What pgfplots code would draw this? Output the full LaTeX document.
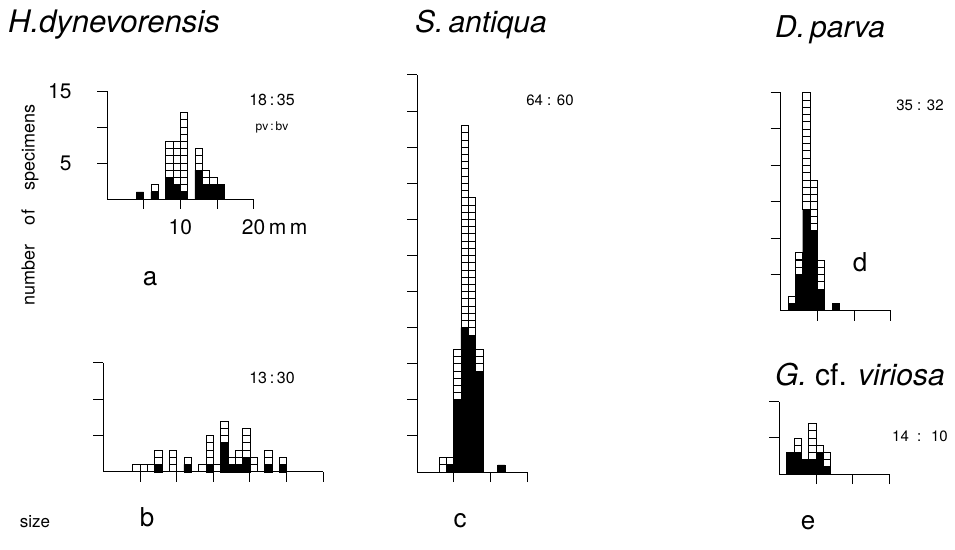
\documentclass[border=0pt]{standalone}
\usepackage{fontspec}
\setmainfont{TeX Gyre Heros}
\usepackage{pgfplots}
\pgfplotsset{compat=1.18}
\pgfplotsset{
  hist/.style={axis lines=left, axis line style={-, line width=0.9pt},
    anchor=origin, enlargelimits=false, clip=false,
    tick align=outside, major tick length=10pt,
    tick style={black, line width=0.9pt},
    xticklabels={}, yticklabels={}, xmin=0, ymin=0},
  blk/.style={ybar, bar width=1, bar shift=0pt, fill=black, draw=black, line width=0.4pt},
  wht/.style={only marks, mark=square*, mark size=3.6pt,
    mark options={fill=white, draw=black, line width=0.6pt}},
}
\begin{document}
\begin{tikzpicture}[x=1pt,y=1pt]
\path[use as bounding box] (0,0) rectangle (955,549);

% ---------- panel a ----------
\begin{axis}[hist, at={(107pt,350pt)}, x=7.33pt, y=7.2pt, xmax=20, ymax=15,
  xtick={5,10,15,20}, ytick={5,10,15},
  xticklabels={,10,,20\rlap{\,m\,m}}, yticklabels={5,,15},
  ticklabel style={font=\fontsize{21}{24}\selectfont},
  yticklabel style={xshift=-22pt}, xticklabel style={yshift=-7pt}]
\addplot[blk] coordinates {(4.5,1)(6.5,1)(8.5,3)(9.5,2)(10.5,1)(12.5,4)(13.5,2)(14.5,2)(15.5,2)};
\addplot[wht] coordinates {
 (6.5,1.5)
 (8.5,3.5)(8.5,4.5)(8.5,5.5)(8.5,6.5)(8.5,7.5)
 (9.5,2.5)(9.5,3.5)(9.5,4.5)(9.5,5.5)(9.5,6.5)(9.5,7.5)
 (10.5,1.5)(10.5,2.5)(10.5,3.5)(10.5,4.5)(10.5,5.5)(10.5,6.5)(10.5,7.5)(10.5,8.5)(10.5,9.5)(10.5,10.5)(10.5,11.5)
 (12.5,4.5)(12.5,5.5)(12.5,6.5)
 (13.5,2.5)(13.5,3.5)
 (14.5,2.5)};
\end{axis}

% ---------- panel b ----------
\begin{axis}[hist, at={(103.3pt,77.3pt)}, x=7.33pt, y=7.27pt, xmax=30, ymax=15,
  xtick={5,10,...,30}, ytick={5,10,15}]
\addplot[blk] coordinates {(7.5,1)(11.5,1)(14.5,1)(16.5,4)(17.5,1)(18.5,1)(19.5,2)(22.5,1)(24.5,1)};
\addplot[wht] coordinates {
 (4.5,0.5)(5.5,0.5)(6.5,0.5)
 (7.5,1.5)(7.5,2.5)
 (9.5,0.5)(9.5,1.5)(9.5,2.5)
 (11.5,1.5)
 (13.5,0.5)
 (14.5,1.5)(14.5,2.5)(14.5,3.5)(14.5,4.5)
 (15.5,0.5)
 (16.5,4.5)(16.5,5.5)(16.5,6.5)
 (17.5,1.5)
 (18.5,1.5)(18.5,2.5)
 (19.5,2.5)(19.5,3.5)(19.5,4.5)(19.5,5.5)
 (20.5,0.5)(20.5,1.5)
 (22.5,1.5)(22.5,2.5)
 (24.5,1.5)};
\end{axis}

% ---------- panel c ----------
\begin{axis}[hist, at={(417pt,77pt)}, x=7.33pt, y=7.22pt, xmax=15, ymax=55,
  xtick={5,10,15}, ytick={5,10,...,55}]
\addplot[blk] coordinates {(4.5,1)(5.5,10)(6.5,20)(7.5,19)(8.5,14)(11.5,1)};
\addplot[wht] coordinates {
 (3.5,0.5)(3.5,1.5)
 (4.5,1.5)
 (5.5,10.5)(5.5,11.5)(5.5,12.5)(5.5,13.5)(5.5,14.5)(5.5,15.5)(5.5,16.5)
 (6.5,20.5)(6.5,21.5)(6.5,22.5)(6.5,23.5)(6.5,24.5)(6.5,25.5)(6.5,26.5)(6.5,27.5)(6.5,28.5)(6.5,29.5)
 (6.5,30.5)(6.5,31.5)(6.5,32.5)(6.5,33.5)(6.5,34.5)(6.5,35.5)(6.5,36.5)(6.5,37.5)(6.5,38.5)(6.5,39.5)
 (6.5,40.5)(6.5,41.5)(6.5,42.5)(6.5,43.5)(6.5,44.5)(6.5,45.5)(6.5,46.5)(6.5,47.5)
 (7.5,19.5)(7.5,20.5)(7.5,21.5)(7.5,22.5)(7.5,23.5)(7.5,24.5)(7.5,25.5)(7.5,26.5)(7.5,27.5)(7.5,28.5)
 (7.5,29.5)(7.5,30.5)(7.5,31.5)(7.5,32.5)(7.5,33.5)(7.5,34.5)(7.5,35.5)(7.5,36.5)(7.5,37.5)
 (8.5,14.5)(8.5,15.5)(8.5,16.5)};
\end{axis}

% ---------- panel d ----------
\begin{axis}[hist, at={(780.7pt,238.3pt)}, x=7.33pt, y=7.27pt, xmax=15, ymax=30,
  xtick={5,10,15}, ytick={5,10,...,30}]
\addplot[blk] coordinates {(1.5,1)(2.5,5)(3.5,14)(4.5,11)(5.5,3)(7.5,1)};
\addplot[wht] coordinates {
 (1.5,1.5)
 (2.5,5.5)(2.5,6.5)(2.5,7.5)
 (3.5,14.5)(3.5,15.5)(3.5,16.5)(3.5,17.5)(3.5,18.5)(3.5,19.5)(3.5,20.5)(3.5,21.5)
 (3.5,22.5)(3.5,23.5)(3.5,24.5)(3.5,25.5)(3.5,26.5)(3.5,27.5)(3.5,28.5)(3.5,29.5)
 (4.5,11.5)(4.5,12.5)(4.5,13.5)(4.5,14.5)(4.5,15.5)(4.5,16.5)(4.5,17.5)
 (5.5,3.5)(5.5,4.5)(5.5,5.5)(5.5,6.5)};
\end{axis}

% ---------- panel e ----------
\begin{axis}[hist, at={(779.3pt,75pt)}, x=7.33pt, y=7.23pt, xmax=15, ymax=10,
  xtick={5,10,15}, ytick={5,10}]
\addplot[blk] coordinates {(1.5,3)(2.5,3)(3.5,2)(4.5,2)(5.5,3)(6.5,1)};
\addplot[wht] coordinates {
 (2.5,3.5)(2.5,4.5)
 (4.5,2.5)(4.5,3.5)(4.5,4.5)(4.5,5.5)(4.5,6.5)
 (5.5,3.5)
 (6.5,1.5)(6.5,2.5)};
\end{axis}

% ---------- texts ----------
\begin{scope}[every node/.style={inner sep=0pt}]
\node[anchor=base west, font=\fontsize{31}{36}\selectfont\itshape] at (8,516) {H.dynevorensis};
\node[anchor=base west, font=\fontsize{30}{36}\selectfont\itshape] at (415,516) {S.\,antiqua};
\node[anchor=base west, font=\fontsize{30}{36}\selectfont\itshape] at (775,511) {D.\,parva};
\node[anchor=base west, font=\fontsize{30}{36}\selectfont] at (775,164) {\textit{G.} cf. \textit{viriosa}};

\node[font=\fontsize{16}{18}\selectfont] at (272,449) {18\,:\,35};
\node[font=\fontsize{12}{14}\selectfont] at (272,422) {pv\,:\,bv};
\node[font=\fontsize{15}{18}\selectfont] at (550,449) {64 : 60};
\node[font=\fontsize{15}{18}\selectfont] at (920,444) {35 : 32};
\node[font=\fontsize{16}{18}\selectfont] at (272,171) {13\,:\,30};
\node[font=\fontsize{15}{18}\selectfont] at (920,113) {14 \ : \ 10};

\node[font=\fontsize{26}{30}\selectfont] at (150,270) {a};
\node[font=\fontsize{26}{30}\selectfont] at (147,32) {b};
\node[font=\fontsize{26}{30}\selectfont] at (460,28) {c};
\node[font=\fontsize{26}{30}\selectfont] at (860,287) {d};
\node[font=\fontsize{26}{30}\selectfont] at (808,26) {e};

\node[rotate=90, font=\fontsize{18}{20}\selectfont] at (30,344) {number\hspace{1.1em}of\hspace{1.1em}specimens};
\node[font=\fontsize{17}{20}\selectfont] at (35,27) {size};
\end{scope}
\end{tikzpicture}
\end{document}
